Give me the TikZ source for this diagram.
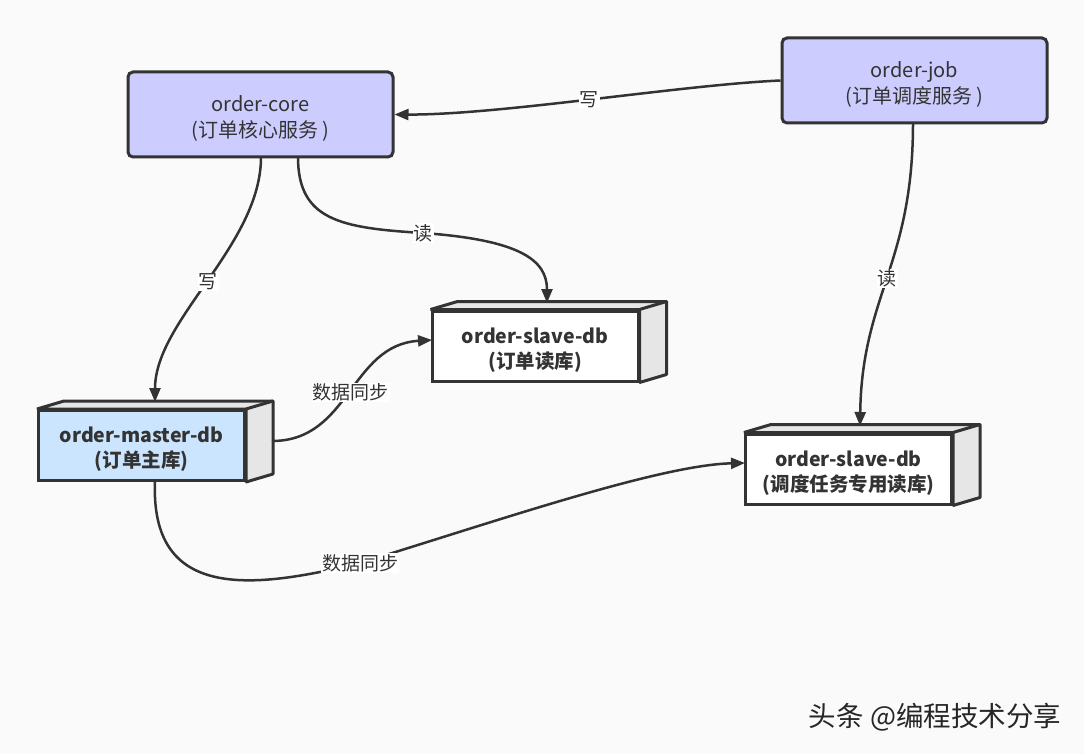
\documentclass[tikz,border=0pt]{standalone}
\usepackage{fontspec}
\setmainfont{Noto Sans CJK SC}
\usetikzlibrary{arrows.meta,calc}
\definecolor{bg}{HTML}{FAFAFA}
\definecolor{ln}{HTML}{333333}
\definecolor{svc}{HTML}{CCCCFF}
\definecolor{mst}{HTML}{CCE5FF}
\definecolor{face}{HTML}{E6E6E6}
\tikzset{
  svcbox/.style={draw=ln,line width=3pt,rounded corners=5pt,fill=svc,minimum width=265pt,minimum height=85pt},
  svctext/.style={align=center,font=\fontsize{20pt}{26pt}\selectfont,text=ln,inner sep=0pt},
  dbbox/.style={draw=ln,line width=3pt,minimum width=206pt,minimum height=70pt},
  dbtext/.style={align=center,font=\fontsize{19.5pt}{25pt}\selectfont\bfseries,text=ln,inner sep=0pt},
  dbface/.style={draw=ln,line width=3pt,fill=face,line join=bevel},
  conn/.style={draw=ln,line width=2.5pt,-{Triangle[length=14pt,width=11pt]}},
  lbl/.style={fill=white,inner sep=1pt,font=\fontsize{19pt}{21pt}\selectfont,text=ln},
}
\newcommand{\dbdepth}[1]{%
  \draw[dbface] (#1.north west) -- ($(#1.north west)+(27,-8)$) -- ($(#1.north east)+(27,-8)$) -- ($(#1.south east)+(27,-8)$) -- (#1.south east) -- (#1.north east) -- cycle;
  \draw[ln,line width=3pt] (#1.north east) -- ($(#1.north east)+(27,-8)$);}
\begin{document}
\begin{tikzpicture}[x=1pt,y=-1pt]
\fill[bg] (0,0) rectangle (1084,754);
\useasboundingbox (0,0) rectangle (1084,754);

\node[svcbox] (core) at (260.5,114.5) {};
\node[svctext] (coreT) at ($(core.center)+(0,4)$) {order-core\\(订单核心服务 )};
\node[svcbox] (job) at (914.5,80.5) {};
\node[svctext] (jobT) at ($(job.center)+(0,4)$) {order-job\\(订单调度服务 )};

\node[dbbox,fill=white] (s1) at (535,346) {};
\dbdepth{s1}
\node[dbtext] (s1T) at ($(s1.center)+(0,4)$) {order-slave-db\\(订单读库)};
\node[dbbox,fill=mst] (m) at (141.5,445.5) {};
\dbdepth{m}
\node[dbtext] (mT) at ($(m.center)+(0,4)$) {order-master-db\\(订单主库)};
\node[dbbox,fill=white] (s2) at (848.5,469) {};
\dbdepth{s2}
\node[dbtext] (s2T) at ($(s2.center)+(0,4)$) {order-slave-db\\(调度任务专用读库)};

\coordinate (coreS1) at (261,157);
\coordinate (coreS2) at (298,157);
\coordinate (mTop) at (155,402);
\coordinate (s1Top) at (547,303);
\coordinate (jobS) at (913,123);
\coordinate (s2Top) at (860,426);
\coordinate (mSide) at (272,441);
\coordinate (mBot) at (155,481);
\coordinate (s1W) at (432,340);
\coordinate (s2W) at (745,463);

\draw[conn] (job.west) .. controls (680,85) and (500,115) .. node[lbl,pos=0.5] {写} (core.east);
\draw[conn] (coreS1) .. controls (261,245) and (155,320) .. node[lbl,pos=0.5] {写} (mTop);
\draw[conn] (coreS2) .. controls (298,220) and (340,228) .. (423,233) node[lbl] {读} .. controls (520,240) and (547,260) .. (s1Top);
\draw[conn] (jobS) .. controls (913,265) and (862,295) .. node[lbl,pos=0.5] {读} (s2Top);
\draw[conn] (mSide) .. controls (350,441) and (350,345) .. node[lbl,pos=0.5] {数据同步} (s1W);
\draw[conn] (mBot) .. controls (150,600) and (250,590) .. (360,563) node[lbl] {数据同步} .. controls (500,520) and (660,465) .. (s2W);

\node[font=\fontsize{27.5pt}{30pt}\selectfont,text=black!85] (wm) at (935,717) {头条 @编程技术分享};
\end{tikzpicture}
\end{document}
